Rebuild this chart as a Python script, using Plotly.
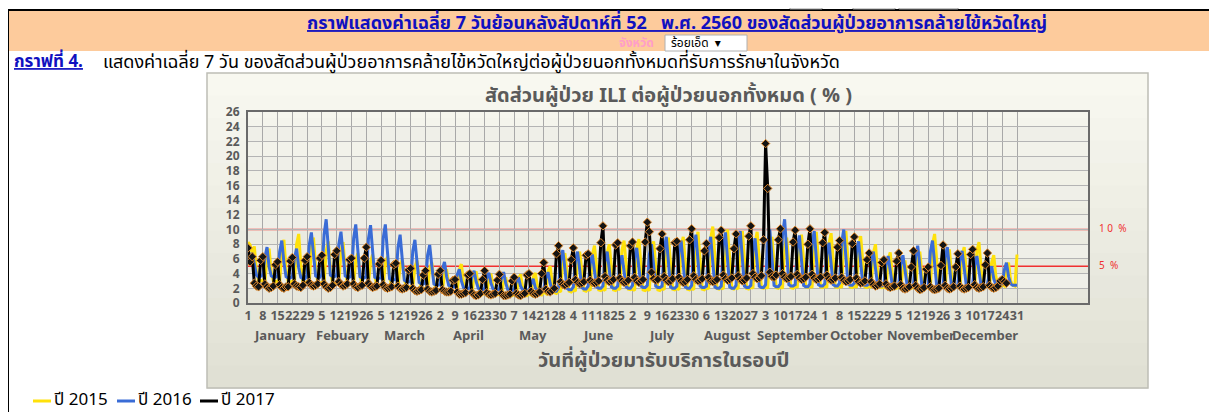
import plotly.graph_objects as go

# ── Data: daily values, one row per week (row starts at the grid day 1, 8, 15, ...) ──
ili_2015 = [
    8.3, 7.9, 6.8, 7.7, 4.3, 3.1, 3.0,
    3.1, 2.9, 6.3, 7.4, 4.1, 3.0, 2.9,
    3.0, 2.8, 7.3, 8.6, 4.7, 2.9, 2.8,
    3.0, 2.8, 8.0, 9.4, 5.2, 2.9, 2.8,
    2.9, 2.7, 7.6, 8.9, 4.9, 2.8, 2.7,
    2.8, 2.6, 7.1, 8.4, 4.6, 2.7, 2.6,
    2.8, 2.6, 7.1, 8.3, 4.6, 2.7, 2.6,
    2.7, 2.5, 5.8, 6.8, 3.7, 2.6, 2.5,
    2.6, 2.4, 5.6, 6.6, 3.6, 2.5, 2.4,
    2.5, 2.3, 5.4, 6.3, 3.5, 2.4, 2.3,
    2.4, 2.2, 5.0, 5.9, 3.2, 2.3, 2.2,
    2.2, 2.0, 4.9, 5.8, 3.2, 2.1, 2.0,
    2.0, 1.8, 4.7, 5.5, 3.0, 1.9, 1.8,
    1.8, 1.6, 3.9, 4.6, 2.5, 1.7, 1.6,
    1.6, 1.4, 4.5, 5.3, 2.9, 1.5, 1.4,
    1.4, 1.2, 3.7, 4.3, 2.4, 1.3, 1.2,
    1.3, 1.1, 3.4, 4.0, 2.2, 1.2, 1.1,
    1.2, 1.0, 3.0, 3.5, 1.9, 1.1, 1.0,
    1.2, 1.0, 3.3, 3.9, 2.1, 1.1, 1.0,
    1.3, 1.1, 3.5, 4.1, 2.3, 1.2, 1.1,
    1.5, 1.3, 4.3, 5.0, 2.8, 1.4, 1.3,
    1.7, 1.5, 5.8, 6.8, 3.7, 1.6, 1.5,
    1.8, 1.6, 6.0, 7.0, 3.9, 1.7, 1.6,
    1.9, 1.7, 6.6, 7.8, 4.3, 1.8, 1.7,
    1.9, 1.7, 6.8, 8.0, 4.4, 1.8, 1.7,
    2.0, 1.8, 7.2, 8.5, 4.7, 1.9, 1.8,
    1.9, 1.7, 7.4, 8.7, 4.8, 1.8, 1.7,
    1.9, 1.7, 7.1, 8.4, 4.6, 1.8, 1.7,
    2.0, 1.8, 7.6, 8.9, 4.9, 1.9, 1.8,
    2.0, 1.8, 7.7, 9.0, 5.0, 1.9, 1.8,
    2.0, 1.8, 8.2, 9.7, 5.3, 1.9, 1.8,
    2.1, 1.9, 8.8, 10.4, 5.7, 2.0, 1.9,
    2.1, 1.9, 8.5, 10.0, 5.5, 2.0, 1.9,
    2.1, 1.9, 8.3, 9.8, 5.4, 2.0, 1.9,
    2.2, 2.0, 8.2, 9.7, 5.3, 2.1, 2.0,
    2.2, 2.0, 7.7, 9.0, 5.0, 2.1, 2.0,
    2.2, 2.0, 7.6, 8.9, 4.9, 2.1, 2.0,
    2.3, 2.1, 7.9, 9.3, 5.1, 2.2, 2.1,
    2.3, 2.1, 8.2, 9.7, 5.3, 2.2, 2.1,
    2.3, 2.1, 8.1, 9.5, 5.2, 2.2, 2.1,
    2.3, 2.1, 8.3, 9.8, 5.4, 2.2, 2.1,
    2.3, 2.1, 7.7, 9.1, 5.0, 2.2, 2.1,
    2.3, 2.1, 6.8, 8.0, 4.4, 2.2, 2.1,
    2.2, 2.0, 5.9, 6.9, 3.8, 2.1, 2.0,
    2.2, 2.0, 4.9, 5.8, 3.2, 2.1, 2.0,
    2.2, 2.0, 6.0, 7.0, 3.9, 2.1, 2.0,
    2.3, 2.1, 8.0, 9.4, 5.2, 2.2, 2.1,
    2.3, 2.1, 6.2, 7.3, 4.0, 2.2, 2.1,
    2.3, 2.1, 6.5, 7.6, 4.2, 2.2, 2.1,
    2.4, 2.2, 7.1, 8.3, 4.6, 2.3, 2.2,
    2.4, 2.2, 5.5, 6.5, 3.6, 2.3, 2.2,
    2.5, 2.3, 4.7, 5.5, 3.0, 2.4, 2.3,
    6.6,
]

ili_2016 = [
    5.5, 6.0, 6.8, 5.0, 3.8, 3.5, 3.6,
    3.8, 6.2, 7.6, 4.9, 3.7, 3.5, 3.5,
    3.7, 7.0, 8.5, 5.5, 3.6, 3.4, 3.4,
    3.6, 6.1, 7.4, 4.8, 3.5, 3.3, 3.3,
    3.8, 7.9, 9.6, 6.2, 3.7, 3.5, 3.5,
    3.9, 9.3, 11.4, 7.4, 3.8, 3.6, 3.6,
    3.8, 8.0, 9.7, 6.3, 3.7, 3.5, 3.5,
    3.7, 8.8, 10.7, 7.0, 3.6, 3.4, 3.4,
    3.6, 8.7, 10.6, 6.9, 3.5, 3.3, 3.3,
    3.4, 8.8, 10.7, 7.0, 3.3, 3.1, 3.1,
    3.2, 7.6, 9.3, 6.0, 3.1, 2.9, 2.9,
    2.9, 7.1, 8.6, 5.6, 2.8, 2.6, 2.6,
    2.7, 6.5, 7.9, 5.1, 2.6, 2.4, 2.4,
    2.5, 4.6, 5.6, 3.6, 2.4, 2.2, 2.2,
    2.2, 3.8, 4.6, 3.0, 2.1, 1.9, 1.9,
    2.1, 3.6, 4.4, 2.9, 2.0, 1.8, 1.8,
    2.0, 3.4, 4.1, 2.7, 1.9, 1.7, 1.7,
    1.9, 3.4, 4.2, 2.7, 1.8, 1.6, 1.6,
    1.9, 2.9, 3.5, 2.3, 1.8, 1.6, 1.6,
    1.8, 2.7, 3.3, 2.1, 1.7, 1.5, 1.5,
    1.9, 3.4, 4.2, 2.7, 1.8, 1.6, 1.6,
    2.1, 5.9, 7.2, 4.7, 2.0, 1.8, 1.8,
    2.2, 5.7, 7.0, 4.6, 2.1, 1.9, 1.9,
    2.3, 5.4, 6.6, 4.3, 2.2, 2.0, 2.0,
    2.3, 5.7, 7.0, 4.6, 2.2, 2.0, 2.0,
    2.3, 5.3, 6.5, 4.2, 2.2, 2.0, 2.0,
    2.4, 6.2, 7.5, 4.9, 2.3, 2.1, 2.1,
    2.4, 6.6, 8.0, 5.2, 2.3, 2.1, 2.1,
    2.3, 7.4, 9.0, 5.9, 2.2, 2.0, 2.0,
    2.3, 7.0, 8.5, 5.5, 2.2, 2.0, 2.0,
    2.4, 7.6, 9.3, 6.0, 2.3, 2.1, 2.1,
    2.3, 7.4, 9.0, 5.9, 2.2, 2.0, 2.0,
    2.3, 7.9, 9.6, 6.2, 2.2, 2.0, 2.0,
    2.4, 8.0, 9.8, 6.4, 2.3, 2.1, 2.1,
    2.4, 7.2, 8.8, 5.7, 2.3, 2.1, 2.1,
    2.5, 8.2, 10.0, 6.5, 2.4, 2.2, 2.2,
    2.6, 9.3, 11.4, 7.4, 2.5, 2.3, 2.3,
    2.5, 7.5, 9.2, 6.0, 2.4, 2.2, 2.2,
    2.6, 8.0, 9.8, 6.4, 2.5, 2.3, 2.3,
    2.6, 6.7, 8.2, 5.3, 2.5, 2.3, 2.3,
    2.7, 8.2, 10.0, 6.5, 2.6, 2.4, 2.4,
    2.7, 6.9, 8.4, 5.5, 2.6, 2.4, 2.4,
    2.6, 5.7, 7.0, 4.6, 2.5, 2.3, 2.3,
    2.5, 5.2, 6.4, 4.2, 2.4, 2.2, 2.2,
    2.5, 5.3, 6.5, 4.2, 2.4, 2.2, 2.2,
    2.4, 6.4, 7.8, 5.1, 2.3, 2.1, 2.1,
    2.4, 7.0, 8.5, 5.5, 2.3, 2.1, 2.1,
    2.4, 6.2, 7.6, 4.9, 2.3, 2.1, 2.1,
    2.5, 5.8, 7.1, 4.6, 2.4, 2.2, 2.2,
    2.5, 5.2, 6.4, 4.2, 2.4, 2.2, 2.2,
    2.6, 4.1, 5.0, 3.3, 2.5, 2.3, 2.3,
    2.7, 4.5, 5.5, 3.6, 2.6, 2.4, 2.4,
    2.4,
]

ili_2017 = [
    7.5, 5.6, 6.3, 2.7, 2.3, 2.2, 5.8,
    6.3, 2.6, 2.2, 2.0, 2.1, 2.3, 5.2,
    5.6, 2.5, 2.1, 2.0, 2.2, 2.2, 5.7,
    6.2, 2.6, 2.3, 2.2, 2.1, 2.4, 5.8,
    6.3, 2.8, 2.4, 2.3, 2.4, 2.6, 6.1,
    6.5, 2.6, 2.2, 2.0, 2.1, 2.4, 6.6,
    7.1, 2.9, 2.5, 2.3, 2.4, 2.6, 5.9,
    6.1, 2.6, 2.2, 2.1, 2.3, 2.4, 6.1,
    7.6, 2.7, 2.3, 2.1, 2.2, 2.3, 5.3,
    5.8, 2.5, 2.1, 2.0, 2.1, 2.2, 5.2,
    5.4, 2.3, 2.0, 1.9, 2.0, 2.1, 4.5,
    4.7, 2.0, 1.7, 1.6, 1.7, 1.8, 3.8,
    4.4, 1.9, 1.6, 1.5, 1.6, 1.7, 3.9,
    4.4, 1.8, 1.6, 1.5, 1.5, 1.6, 3.1,
    3.2, 1.5, 1.2, 1.2, 1.3, 1.4, 3.8,
    4.0, 1.4, 1.1, 1.0, 1.1, 1.3, 3.2,
    4.4, 1.4, 1.2, 1.1, 1.2, 1.3, 3.1,
    3.9, 1.3, 1.0, 1.0, 1.1, 1.2, 3.0,
    3.5, 1.3, 1.1, 1.0, 1.2, 1.3, 3.8,
    4.0, 1.6, 1.3, 1.2, 1.3, 1.5, 4.0,
    5.5, 1.9, 1.6, 1.5, 1.7, 2.0, 6.7,
    7.8, 2.9, 2.5, 2.4, 2.6, 2.8, 5.9,
    7.5, 3.2, 2.8, 2.6, 2.7, 2.9, 6.5,
    6.7, 3.1, 2.8, 2.7, 2.8, 3.0, 8.2,
    10.5, 3.6, 3.1, 2.9, 3.0, 3.2, 7.9,
    8.2, 3.4, 3.0, 2.8, 2.9, 3.1, 7.8,
    8.3, 3.5, 3.0, 2.8, 3.0, 3.2, 8.3,
    11.0, 9.7, 4.2, 3.3, 3.1, 3.2, 7.4,
    9.4, 3.6, 3.1, 2.9, 3.0, 3.3, 8.2,
    8.4, 3.5, 3.0, 2.8, 2.9, 3.2, 8.6,
    10.1, 3.7, 3.2, 3.0, 3.1, 3.3, 7.1,
    8.1, 3.5, 3.0, 2.9, 3.0, 3.2, 8.9,
    9.9, 3.8, 3.3, 3.1, 3.2, 3.4, 7.4,
    9.4, 3.7, 3.2, 3.0, 3.1, 3.4, 9.1,
    10.5, 4.0, 3.5, 3.3, 3.4, 3.7, 8.6,
    21.7, 15.6, 4.2, 3.6, 3.5, 3.8, 8.6,
    10.1, 4.0, 3.5, 3.3, 3.4, 3.6, 8.3,
    9.9, 3.9, 3.4, 3.2, 3.3, 3.5, 8.0,
    10.1, 3.9, 3.4, 3.2, 3.3, 3.5, 8.2,
    9.6, 3.8, 3.3, 3.1, 3.2, 3.4, 7.6,
    8.5, 3.5, 3.1, 2.9, 3.0, 3.2, 8.1,
    9.0, 3.4, 2.9, 2.7, 2.8, 3.0, 5.9,
    6.8, 2.9, 2.5, 2.3, 2.4, 2.6, 5.5,
    5.9, 2.6, 2.2, 2.1, 2.2, 2.3, 5.7,
    6.8, 2.5, 2.0, 1.9, 2.0, 2.2, 4.9,
    7.1, 2.4, 2.0, 1.8, 1.9, 2.1, 4.6,
    4.9, 2.2, 1.9, 1.8, 1.9, 2.0, 5.1,
    7.9, 2.4, 2.0, 1.9, 2.0, 2.2, 4.9,
    6.7, 2.3, 2.0, 1.9, 2.0, 2.1, 6.6,
    7.3, 2.5, 2.1, 2.0, 2.1, 2.2, 5.2,
    6.8, 2.4, 2.1, 2.0, 2.1, 2.3, 3.0,
    3.2, 2.9, 2.7,
]

tick_days = list(range(1, 366, 7))
tick_labels = ["1", "8", "15", "22", "29", "5", "12", "19", "26", "5", "12", "19", "26",
               "2", "9", "16", "23", "30", "7", "14", "21", "28", "4", "11", "18", "25",
               "2", "9", "16", "23", "30", "6", "13", "20", "27", "3", "10", "17", "24",
               "1", "8", "15", "22", "29", "5", "12", "19", "26", "3", "10", "17", "24", "31"]
month_names = ["January", "Febuary", "March", "April", "May", "June", "July",
               "August", "September", "October", "November", "December"]
month_mid_days = [16, 45.5, 75, 105.5, 136, 166.5, 197, 228, 258.5, 289, 319.5, 350]

# ── Layout helpers ──
# positions below are page pixels; the page body adds an 8 px margin around the figure
OFF = 8
PAGE_W, PAGE_H = 1217, 412
L, R, T, B = 248, 1088, 112, 303   # plot area in page pixels


def px(x):
    return (x - L) / (R - L)


def py(y):
    return (B - y) / (B - T)


GRAY = "#5a5a5a"
FONT = "Tahoma, 'Noto Sans Thai', 'Noto Sans', 'DejaVu Sans', sans-serif"

fig = go.Figure()
fig.add_trace(go.Scatter(x=list(range(1, len(ili_2015) + 1)), y=ili_2015, mode="lines",
                         name="ปี 2015", line=dict(color="#FFE10A", width=3)))
fig.add_trace(go.Scatter(x=list(range(1, len(ili_2016) + 1)), y=ili_2016, mode="lines",
                         name="ปี 2016", line=dict(color="#3A6CD6", width=3)))
fig.add_trace(go.Scatter(x=list(range(1, len(ili_2017) + 1)), y=ili_2017, mode="lines+markers",
                         name="ปี 2017", line=dict(color="#000000", width=3),
                         marker=dict(symbol="diamond", size=6.5, color="#141414",
                                     line=dict(color="#E0892C", width=1))))

shapes = []
# top strip, header band and page border
shapes.append(dict(type="line", xref="paper", yref="paper", x0=px(8), x1=px(PAGE_W), y0=py(10), y1=py(10),
                   line=dict(color="black", width=2)))
shapes.append(dict(type="rect", xref="paper", yref="paper", x0=px(9), x1=px(PAGE_W), y0=py(11), y1=py(51),
                   fillcolor="#FDCB9C", line_width=0, layer="below"))
shapes.append(dict(type="line", xref="paper", yref="paper", x0=px(8), x1=px(8), y0=py(10), y1=py(PAGE_H),
                   line=dict(color="black", width=2)))
for x0, x1, fc in [(790, 822, "white"), (853, 895, "white"), (899, 958, "#e8e8e8")]:
    shapes.append(dict(type="rect", xref="paper", yref="paper", x0=px(x0), x1=px(x1), y0=py(4), y1=py(9),
                       fillcolor=fc, line=dict(color="#9a9a9a", width=1)))
# province dropdown
shapes.append(dict(type="rect", xref="paper", yref="paper", x0=px(665), x1=px(747), y0=py(35), y1=py(51),
                   fillcolor="white", line=dict(color="#b0b0b0", width=1)))
# chart frame with a soft vertical gradient
steps = 14
top_rgb, bot_rgb = (248, 248, 240), (224, 224, 212)
for i in range(steps):
    f = i / (steps - 1)
    c = tuple(round(top_rgb[k] + (bot_rgb[k] - top_rgb[k]) * f) for k in range(3))
    y0 = 73 + (388 - 73) * i / steps
    y1 = 73 + (388 - 73) * (i + 1) / steps
    shapes.append(dict(type="rect", xref="paper", yref="paper", x0=px(207), x1=px(1148),
                       y0=py(y0), y1=py(y1 + 0.5), fillcolor="rgb(%d,%d,%d)" % c, line_width=0, layer="below"))
shapes.append(dict(type="rect", xref="paper", yref="paper", x0=px(207), x1=px(1148), y0=py(73), y1=py(388),
                   line=dict(color="#bdbdb5", width=1.5), layer="below"))
# alternating bands in the plot area
for lo in range(2, 26, 4):
    shapes.append(dict(type="rect", xref="paper", yref="y", x0=0, x1=1, y0=lo, y1=lo + 2,
                       fillcolor="#EFEFE8", line_width=0, layer="below"))
# 10 % and 5 % reference lines
for lvl in (10, 5):
    shapes.append(dict(type="line", xref="paper", yref="y", x0=0, x1=1, y0=lvl, y1=lvl,
                       line=dict(color="#F03030", width=1.5), layer="between"))
# manual legend
for x0, col in [(33, "#FFE10A"), (117, "#3A6CD6"), (200, "#000000")]:
    shapes.append(dict(type="line", xref="paper", yref="paper", x0=px(x0), x1=px(x0 + 18),
                       y0=py(401), y1=py(401), line=dict(color=col, width=3)))

annotations = [
    dict(text="<u>กราฟแสดงค่าเฉลี่ย 7 วันย้อนหลังสัปดาห์ที่ 52   พ.ศ. 2560 ของสัดส่วนผู้ป่วยอาการคล้ายไข้หวัดใหญ่</u>",
         x=px(677), y=py(23), font=dict(size=18, color="#1010C0", weight="bold")),
    dict(text="จังหวัด", x=px(636), y=py(43), font=dict(size=12, color="#FF9EC8", weight="bold")),
    dict(text="ร้อยเอ็ด  ▾", x=px(669), y=py(43), xanchor="left", font=dict(size=12, color="black")),
    dict(text="<u><b>กราฟที่ 4.</b></u>", x=px(12), y=py(62), xanchor="left",
         font=dict(size=17, color="#1010C0")),
    dict(text="แสดงค่าเฉลี่ย 7 วัน ของสัดส่วนผู้ป่วยอาการคล้ายไข้หวัดใหญ่ต่อผู้ป่วยนอกทั้งหมดที่รับการรักษาในจังหวัด",
         x=px(101), y=py(62), xanchor="left", font=dict(size=18, color="black")),
    dict(text="สัดส่วนผู้ป่วย ILI ต่อผู้ป่วยนอกทั้งหมด ( % )", x=px(668), y=py(96),
         font=dict(size=20, color=GRAY, weight="bold")),
    dict(text="วันที่ผู้ป่วยมารับบริการในรอบปี", x=px(664), y=py(361),
         font=dict(size=20, color=GRAY, weight="bold")),
    dict(text="1 0  %", x=px(1097), y=py(229), xanchor="left", font=dict(size=10, color="#F03030")),
    dict(text="5  %", x=px(1097), y=py(266), xanchor="left", font=dict(size=10, color="#F03030")),
    dict(text="ปี 2015", x=px(52), y=py(400), xanchor="left", font=dict(size=17, color="black")),
    dict(text="ปี 2016", x=px(136), y=py(400), xanchor="left", font=dict(size=17, color="black")),
    dict(text="ปี 2017", x=px(219), y=py(400), xanchor="left", font=dict(size=17, color="black")),
]
for name, d in zip(month_names, month_mid_days):
    annotations.append(dict(text=name, x=d, xref="x", y=py(336), font=dict(size=13, color=GRAY, weight="bold")))
for a in annotations:
    a.setdefault("xref", "paper")
    a.setdefault("yref", "paper")
    a.setdefault("showarrow", False)
    a.setdefault("xanchor", "center")
    a["yanchor"] = "middle"

fig.update_layout(
    width=PAGE_W - OFF, height=PAGE_H - OFF,
    margin=dict(l=L - OFF, r=PAGE_W - R, t=T - OFF, b=PAGE_H - B, pad=0),
    paper_bgcolor="white",
    plot_bgcolor="white",
    showlegend=False,
    font=dict(family=FONT),
    shapes=shapes,
    annotations=annotations,
)
fig.update_xaxes(range=[1, 398.6], tickvals=tick_days, ticktext=tick_labels, tickangle=0,
                 tickfont=dict(size=12.5, color=GRAY, weight="bold"), ticks="", ticklen=0,
                 showgrid=True, gridcolor="#A8A8A8", gridwidth=1, zeroline=False,
                 showline=True, linecolor="#6a6a6a", linewidth=2, mirror=True)
fig.update_yaxes(range=[0, 26], dtick=2, tickfont=dict(size=12, color=GRAY, weight="bold"),
                 showgrid=True, gridcolor="#B4B4B4", gridwidth=1, zeroline=False,
                 showline=True, linecolor="#6a6a6a", linewidth=2, mirror=True, ticklabelstandoff=4)

fig.write_html("out.html")
